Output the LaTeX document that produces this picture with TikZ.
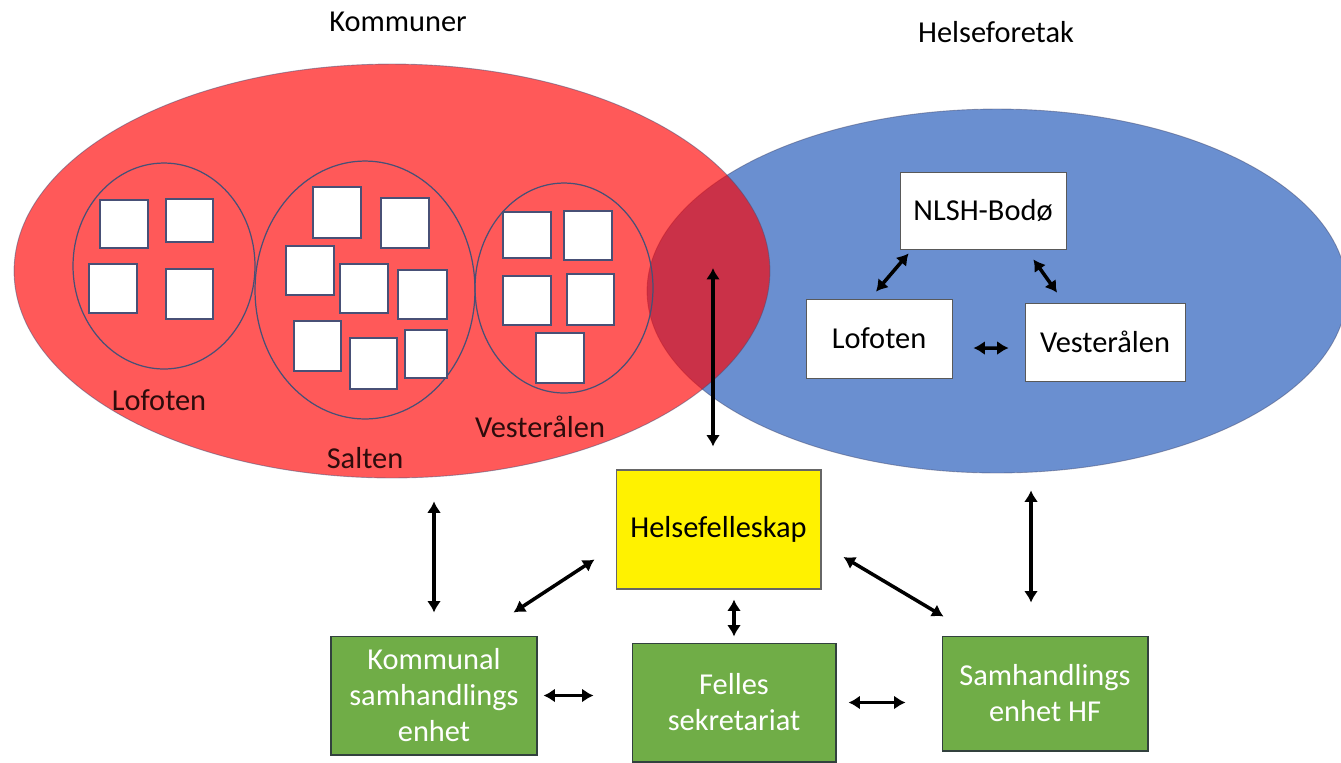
\documentclass[tikz,border=0pt]{standalone}
\usepackage{fontspec}
\setmainfont{Carlito}
\usetikzlibrary{arrows.meta}
\usetikzlibrary{shapes.geometric}
\definecolor{komred}{RGB}{255,0,0}
\definecolor{hfblue}{RGB}{106,143,208}
\definecolor{boxgreen}{RGB}{112,173,71}
\definecolor{edgeblue}{RGB}{72,80,118}
\definecolor{labeldark}{RGB}{45,12,12}
\newcommand{\dblarrow}{{Latex[length=6.5pt,width=8pt]}-{Latex[length=6.5pt,width=8pt]}}

\begin{document}
\begin{tikzpicture}[x=0.02cm,y=-0.02cm,
    font=\fontsize{17.3}{20.5}\selectfont,
    region/.style={ellipse,inner sep=0pt,draw=edgeblue,line width=0.5pt},
    subregion/.style={ellipse,inner sep=0pt,draw=edgeblue,line width=0.7pt},
    sq/.style={fill=white,draw=edgeblue,line width=0.8pt},
    ybox/.style={rectangle,fill=yellow,draw=gray!80!black,line width=0.6pt,inner sep=0pt,align=center},
    gbox/.style={rectangle,fill=boxgreen,draw=edgeblue!70!boxgreen!60!black,line width=0.6pt,inner sep=0pt,align=center,text=white},
    wbox/.style={rectangle,fill=white,draw=gray!70!black,line width=0.5pt,inner sep=0pt,align=center},
    arr/.style={\dblarrow,line width=2pt,black}]
    			\useasboundingbox (0,0) rectangle (1341,762);
    			% the two areas, red one on top
    			\node[region,fill=hfblue,draw opacity=0.5,minimum width=14cm,minimum height=7.28cm] (hf) at (997,291) {};
    			\node[region,fill=komred,fill opacity=0.65,draw opacity=0.5,minimum width=15.12cm,minimum height=8.28cm] (kom) at (392,271) {};
    			\node[subregion,minimum width=3.64cm,minimum height=4.12cm] (lofk) at (164,266) {};
    			\node[subregion,minimum width=4.4cm,minimum height=5.16cm] (saltk) at (365,290) {};
    			\node[subregion,minimum width=3.56cm,minimum height=4.2cm] (vestk) at (564,288) {};
    			% kommuner
    			\foreach \xa/\ya/\xb/\yb in {100/200/148/248,166/199/213/242,89/264/137/313,166/269/213/319,
    				313/187/361/238,381/198/429/248,286/246/334/295,340/264/388/313,398/270/447/319,
    				294/321/341/371,350/338/397/389,405/330/447/378,
    				503/212/551/258,564/211/612/260,503/276/551/325,567/274/614/325,536/333/584/383}
    				\draw[sq] (\xa,\ya) rectangle (\xb,\yb);
    			\node (kommuner) at (398,22) {Kommuner};
    			\node (helseforetak) at (996,32) {Helseforetak};
    			\node[text=labeldark] (loflab) at (159,400) {Lofoten};
    			\node[text=labeldark] (saltlab) at (365,458) {Salten};
    			\node[text=labeldark] (vestlab) at (540,427) {Vesterålen};
    			% helseforetak
    			\node[wbox,minimum width=3.32cm,minimum height=1.54cm] (nlsh) at (983,210.5) {NLSH-Bodø};
    			\node[wbox,minimum width=2.92cm,minimum height=1.58cm] (lof) at (879,338.5) {Lofoten};
    			\node[wbox,minimum width=3.2cm,minimum height=1.56cm] (vest) at (1105,342) {Vesterålen};
    			% samarbeid
    			\node[ybox,minimum width=4.1cm,minimum height=2.38cm] (helse) at (718.5,529.5) {Helsefelleskap};
    			\node[gbox,minimum width=4.12cm,minimum height=2.38cm] (komm) at (434,695.5) {Kommunal\\samhandlings\\enhet};
    			\node[gbox,minimum width=4.08cm,minimum height=2.38cm] (felles) at (734,702.5) {Felles\\sekretariat};
    			\node[gbox,minimum width=4.12cm,minimum height=2.3cm] (samh) at (1045,693.5) {Samhandlings\\enhet HF};
    			\coordinate (ov) at (713,268);
    			\coordinate (rv) at ([xshift=-0.28cm]samh.north);
    			\draw[arr,shorten >=0.46cm] (ov) -- (ov |- helse.north);
    			\draw[arr,shorten <=0.46cm,shorten >=0.46cm] (komm.north |- kom.south) -- (komm.north);
    			\draw[arr,shorten <=0.34cm,shorten >=0.66cm] (rv |- hf.south) -- (rv);
    			\draw[arr] ([shift={(-24,-23)}]komm.north east) -- ([shift={(-21,30)}]helse.west);
    			\draw[arr] ([shift={(22,27.5)}]helse.east) -- ([shift={(2,-19)}]samh.north west);
    			\draw[arr,shorten <=0.2cm,shorten >=0.12cm] (felles.north |- helse.south) -- (felles.north);
    			\draw[arr,shorten <=0.12cm,shorten >=0.76cm] (komm.east) -- (komm.east -| felles.west);
    			\draw[arr,shorten <=0.24cm,shorten >=0.72cm] (felles.east) -- (felles.east -| samh.west);
    			\draw[arr] ([shift={(9,4)}]nlsh.south west) -- ([shift={(-3,-7)}]lof.north);
    			\draw[arr] ([shift={(-33,10)}]nlsh.south east) -- ([shift={(-48,-10)}]vest.north);
    			\draw[arr] ([shift={(21,9.5)}]lof.east) -- ([shift={(-16,6)}]vest.west);
    			\end{tikzpicture}
\end{document}
